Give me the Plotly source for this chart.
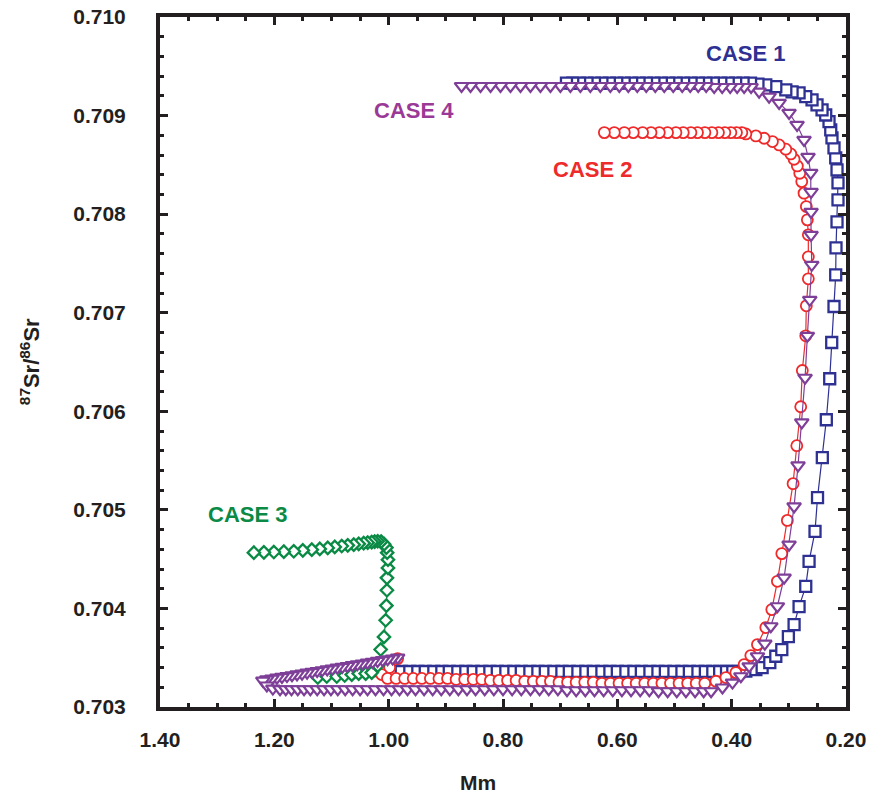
import plotly.graph_objects as go

# ---------------- data ----------------
x_tick_vals = [1.40, 1.20, 1.00, 0.80, 0.60, 0.40, 0.20]
x_tick_text = ["1.40", "1.20", "1.00", "0.80", "0.60", "0.40", "0.20"]
y_tick_vals = [0.703, 0.704, 0.705, 0.706, 0.707, 0.708, 0.709, 0.710]
y_tick_text = ["0.703", "0.704", "0.705", "0.706", "0.707", "0.708", "0.709", "0.710"]

case_labels = ["CASE 1", "CASE 2", "CASE 3", "CASE 4"]

# CASE 1 (blue squares)
case1_mm = [
    1.019, 1.005, 0.991, 0.978, 0.963, 0.949, 0.936, 0.921, 0.907, 0.894,
    0.879, 0.865, 0.852, 0.837, 0.823, 0.810, 0.795, 0.781, 0.768, 0.753,
    0.739, 0.726, 0.711, 0.697, 0.684, 0.669, 0.655, 0.642, 0.627, 0.613,
    0.600, 0.585, 0.571, 0.558, 0.543, 0.529, 0.516, 0.501, 0.487, 0.474,
    0.459, 0.446, 0.433, 0.421, 0.409, 0.398, 0.387,
    0.3752, 0.3577, 0.3467, 0.3333, 0.3228, 0.3123, 0.3008, 0.2908, 0.2821,
    0.2704, 0.2646, 0.2542, 0.2498, 0.2414, 0.2344, 0.2285, 0.2250, 0.2210,
    0.2180, 0.2175, 0.2157, 0.2140, 0.2140, 0.2157, 0.2180, 0.2210, 0.2245,
    0.2267, 0.2297, 0.2355, 0.2419, 0.2507, 0.2594, 0.2704, 0.2821, 0.2943,
    0.3053, 0.3228, 0.3403,
    0.354, 0.367, 0.380, 0.393, 0.406, 0.419, 0.432, 0.445, 0.458, 0.471,
    0.484, 0.497, 0.510, 0.523, 0.536, 0.549, 0.562, 0.575, 0.588, 0.601,
    0.614, 0.627, 0.640, 0.653, 0.666, 0.678, 0.689,
]
case1_sr = [
    0.70337, 0.70337, 0.70336, 0.70336, 0.70336, 0.70336, 0.70336, 0.70336, 0.70336, 0.70336,
    0.70336, 0.70336, 0.70336, 0.70336, 0.70336, 0.70336, 0.70336, 0.70336, 0.70336, 0.70336,
    0.70336, 0.70336, 0.70336, 0.70336, 0.70336, 0.70336, 0.70336, 0.70336, 0.70336, 0.70336,
    0.70336, 0.70336, 0.70336, 0.70336, 0.70336, 0.70336, 0.70336, 0.70336, 0.70336, 0.70336,
    0.70336, 0.70336, 0.70336, 0.70336, 0.70336, 0.70336, 0.70336,
    0.703363, 0.703380, 0.703400, 0.703451, 0.703515, 0.703583, 0.703714, 0.703836, 0.704019,
    0.704224, 0.704478, 0.704782, 0.705124, 0.705529, 0.705914, 0.706330, 0.706698, 0.707063,
    0.707384, 0.707658, 0.707922, 0.708145, 0.708317, 0.708449, 0.708571, 0.708672, 0.708773,
    0.708854, 0.708939, 0.709006, 0.709057, 0.709108, 0.709159, 0.709192, 0.709230, 0.709240,
    0.709260, 0.709293, 0.709311,
    0.70932, 0.70933, 0.70933, 0.70933, 0.70933, 0.70933, 0.70933, 0.70933, 0.70933, 0.70933,
    0.70933, 0.70933, 0.70933, 0.70933, 0.70933, 0.70933, 0.70933, 0.70933, 0.70933, 0.70933,
    0.70933, 0.70933, 0.70933, 0.70933, 0.70933, 0.70933, 0.70933,
]

# CASE 2 (red circles)
case2_mm = [
    0.9843, 0.9983, 1.0122,
    1.002, 0.987, 0.972, 0.957, 0.942, 0.927, 0.912, 0.897, 0.882, 0.867,
    0.852, 0.837, 0.822, 0.807, 0.792, 0.777, 0.762, 0.747, 0.732, 0.717,
    0.702, 0.687, 0.672, 0.657, 0.642, 0.627, 0.612, 0.597, 0.582, 0.567,
    0.552, 0.537, 0.522, 0.507, 0.492, 0.477, 0.462, 0.447, 0.4276,
    0.4101, 0.3927, 0.3782, 0.3665, 0.3549, 0.3403, 0.3298, 0.3200, 0.3123,
    0.3026, 0.2926, 0.2861, 0.2792, 0.2764, 0.2704, 0.2694, 0.2659, 0.2659,
    0.2659, 0.2676, 0.2694, 0.2734, 0.2774, 0.2809, 0.2851, 0.2908, 0.2966,
    0.3053, 0.3170, 0.3287, 0.3432, 0.3577, 0.3752,
    0.3822, 0.3916, 0.4014, 0.4119, 0.4231, 0.4346, 0.4468, 0.4598, 0.4713,
    0.4847, 0.4975, 0.5122, 0.5266, 0.5411, 0.5558, 0.5721, 0.5878, 0.6053, 0.6227,
]
case2_sr = [
    0.703491, 0.703400, 0.703329,
    0.70329, 0.70329, 0.70329, 0.70329, 0.70329, 0.70329, 0.70329, 0.70329, 0.70328, 0.70328,
    0.70328, 0.70328, 0.70327, 0.70327, 0.70327, 0.70327, 0.70326, 0.70326, 0.70326, 0.70326,
    0.70325, 0.70325, 0.70325, 0.70325, 0.70325, 0.70324, 0.70324, 0.70324, 0.70324, 0.70324,
    0.70324, 0.70324, 0.70324, 0.70324, 0.70324, 0.70324, 0.70324, 0.70324, 0.703261,
    0.703299, 0.703349, 0.703430, 0.703522, 0.703633, 0.703806, 0.703988, 0.704275, 0.704556,
    0.704893, 0.705266, 0.705651, 0.706046, 0.706414, 0.706766, 0.707070, 0.707344, 0.707567,
    0.707790, 0.707942, 0.708077, 0.708213, 0.708330, 0.708415, 0.708489, 0.708557, 0.708611,
    0.708659, 0.708702, 0.708736, 0.708770, 0.708794, 0.708814,
    0.708827, 0.708827, 0.708827, 0.708827, 0.708827, 0.708827, 0.708827, 0.708827, 0.708827,
    0.708827, 0.708827, 0.708827, 0.708827, 0.708827, 0.708827, 0.708827, 0.708827, 0.708827, 0.708827,
]

# CASE 3 (green diamonds)
case3_mm = [
    1.1240, 1.1083, 1.0908, 1.0769, 1.0646, 1.0524, 1.0402, 1.0297,
    1.0192, 1.0140, 1.0082, 1.0052, 1.0040, 1.0030, 1.0030, 1.0012, 1.0012,
    1.0026, 1.0040, 1.0079, 1.0131, 1.0192, 1.0245, 1.0297, 1.0367, 1.0437,
    1.0524, 1.0611, 1.0716, 1.0821, 1.0943, 1.1066, 1.1205, 1.1345, 1.1502,
    1.1660, 1.1834, 1.2009, 1.2183, 1.2358,
]
case3_sr = [
    0.703299, 0.703309, 0.703309, 0.703319, 0.703329, 0.703339, 0.703339, 0.703349,
    0.703420, 0.703583, 0.703711, 0.703880, 0.704029, 0.704184, 0.704310, 0.704411, 0.704495,
    0.704566, 0.704617, 0.704652, 0.704678, 0.704681, 0.704678, 0.704673, 0.704667, 0.704662,
    0.704655, 0.704647, 0.704640, 0.704633, 0.704624, 0.704614, 0.704604, 0.704596, 0.704589,
    0.704580, 0.704576, 0.704572, 0.704569, 0.704566,
]

# CASE 4 (purple triangles)
case4_mm = [
    0.9843, 0.9931, 1.0019, 1.0107, 1.0195, 1.0283, 1.0371, 1.0459, 1.0547,
    1.0635, 1.0723, 1.0811, 1.0899, 1.0987, 1.1075, 1.1163, 1.1251, 1.1339,
    1.1427, 1.1515, 1.1603, 1.1691, 1.1779, 1.1867, 1.1955, 1.2043, 1.2131, 1.2201,
    1.2131, 1.2026,
    1.190, 1.180, 1.170, 1.159, 1.148, 1.137, 1.125, 1.113, 1.101, 1.089,
    1.076, 1.063, 1.050, 1.037, 1.023, 1.009, 0.995, 0.981, 0.967, 0.953,
    0.938, 0.923, 0.908, 0.893, 0.878, 0.863, 0.848, 0.832, 0.816, 0.800,
    0.784, 0.768, 0.752, 0.736, 0.720, 0.704, 0.688, 0.672, 0.656, 0.640,
    0.624, 0.608, 0.592, 0.576, 0.560, 0.544, 0.528, 0.512, 0.496, 0.480,
    0.464, 0.449, 0.436,
    0.4161, 0.3986, 0.3839, 0.3694, 0.3549, 0.3420, 0.3315, 0.3200, 0.3083,
    0.2996, 0.2908, 0.2839, 0.2774, 0.2716, 0.2676, 0.2634, 0.2599, 0.2611,
    0.2611, 0.2611, 0.2617, 0.2664, 0.2734, 0.2856, 0.2996, 0.3170, 0.3345, 0.3520,
    0.3660, 0.3782, 0.3904, 0.4026, 0.4166, 0.4306, 0.4446, 0.4585, 0.4725,
    0.4865, 0.5022, 0.5179, 0.5336, 0.5494, 0.5651, 0.5808, 0.5965, 0.6122,
    0.6297, 0.6472, 0.6646, 0.6821, 0.6996, 0.7170, 0.7345, 0.7520, 0.7694,
    0.7869, 0.8044, 0.8218, 0.8393, 0.8568, 0.8725,
]
case4_sr = [
    0.703501, 0.703492, 0.703484, 0.703475, 0.703467, 0.703458, 0.703450, 0.703441, 0.703433,
    0.703424, 0.703416, 0.703407, 0.703399, 0.703390, 0.703382, 0.703373, 0.703365, 0.703356,
    0.703348, 0.703339, 0.703331, 0.703322, 0.703314, 0.703305, 0.703297, 0.703288, 0.703280, 0.703268,
    0.703218, 0.703187,
    0.70318, 0.70318, 0.70318, 0.70318, 0.70318, 0.70318, 0.70318, 0.70318, 0.70318, 0.70318,
    0.70318, 0.70318, 0.70318, 0.70318, 0.70318, 0.70318, 0.70318, 0.70318, 0.70318, 0.70318,
    0.70318, 0.70318, 0.70318, 0.70318, 0.70318, 0.70318, 0.70318, 0.70318, 0.70318, 0.70318,
    0.70318, 0.70318, 0.70318, 0.70318, 0.70318, 0.70318, 0.70317, 0.70317, 0.70317, 0.70317,
    0.70317, 0.70317, 0.70317, 0.70317, 0.70317, 0.70317, 0.70316, 0.70316, 0.70316, 0.70316,
    0.70316, 0.70316, 0.70316,
    0.703198, 0.703248, 0.703312, 0.703413, 0.703515, 0.703643, 0.703819, 0.704022, 0.704313,
    0.704647, 0.705035, 0.705451, 0.705887, 0.706340, 0.706766, 0.707131, 0.707486, 0.707790,
    0.708023, 0.708226, 0.708418, 0.708581, 0.708753, 0.708905, 0.709027, 0.709128, 0.709192, 0.709243,
    0.70929, 0.70929, 0.70929, 0.70929, 0.70929, 0.70929, 0.70930, 0.70930, 0.70930,
    0.70930, 0.70930, 0.70930, 0.70930, 0.70930, 0.70930, 0.70930, 0.70930, 0.70930,
    0.70930, 0.70930, 0.70930, 0.70930, 0.70930, 0.70930, 0.70930, 0.70930, 0.70930,
    0.70930, 0.70930, 0.70930, 0.70930, 0.70930, 0.70930,
]

# ---------------- styling ----------------
FONT = "Liberation Sans, Arial, Helvetica, sans-serif"
INK = "#231F20"
BLUE = "#2E3192"
RED = "#EE2A2A"
GREEN = "#0A8A45"
PURPLE = "#7E3F98"
PURPLE_TXT = "#9B3A96"

fig = go.Figure()

def add_case(xs, ys, color, symbol, size, lw):
    fig.add_trace(go.Scatter(
        x=xs, y=ys, mode="lines+markers",
        line=dict(color=color, width=1.2),
        marker=dict(symbol=symbol, size=size, color="white",
                    line=dict(color=color, width=lw)),
        cliponaxis=False, showlegend=False, hoverinfo="skip",
    ))

add_case(case1_mm, case1_sr, BLUE, "square", 11, 2.3)
add_case(case2_mm, case2_sr, RED, "circle", 11, 1.8)
add_case(case3_mm, case3_sr, GREEN, "diamond", 9.5, 2.3)
add_case(case4_mm, case4_sr, PURPLE, "triangle-down", 12, 2.2)

axis_common = dict(
    showgrid=False, zeroline=False, automargin=False,
    showline=True, linewidth=4, linecolor=INK, mirror="ticks",
    ticks="inside", ticklen=8, tickwidth=3, tickcolor=INK,
    ticklabeloverflow="allow",
    tickfont=dict(family=FONT, size=21, color=INK, weight="bold"),
)

fig.update_xaxes(
    range=[1.40, 0.20], tickmode="array", tickvals=x_tick_vals, ticktext=x_tick_text,
    minor=dict(tickmode="linear", tick0=0.2, dtick=0.05, ticks="inside",
               ticklen=4, tickwidth=3, tickcolor=INK),
    ticklabelstandoff=11,
    **axis_common,
)
fig.update_yaxes(
    range=[0.703, 0.710], tickmode="array", tickvals=y_tick_vals, ticktext=y_tick_text,
    minor=dict(tickmode="linear", tick0=0.703, dtick=0.0002, ticks="inside",
               ticklen=4, tickwidth=3, tickcolor=INK),
    ticklabelstandoff=26,
    **axis_common,
)

# top edge of the frame, drawn where the mirrored axis line sits
fig.add_shape(type="line", xref="paper", yref="paper",
              x0=-0.0058, x1=1.0058, y0=1.0029, y1=1.0029,
              line=dict(color=INK, width=4), layer="above")

label_pos = [(0.8528, 0.9471), (0.6304, 0.7797), (0.1276, 0.2797), (0.3696, 0.8645)]
label_col = [BLUE, RED, GREEN, PURPLE_TXT]
annotations = []
for txt, (px, py), col in zip(case_labels, label_pos, label_col):
    annotations.append(dict(
        text=txt, x=px, y=py, xref="paper", yref="paper",
        xanchor="center", yanchor="middle", showarrow=False,
        font=dict(family=FONT, size=22, color=col, weight="bold"),
    ))
annotations.append(dict(
    text="Mm", x=0.4636, y=-0.1101, xref="paper", yref="paper",
    xanchor="center", yanchor="middle", showarrow=False,
    font=dict(family=FONT, size=21, color=INK, weight="bold"),
))
annotations.append(dict(
    text="<sup>87</sup>Sr/<sup>86</sup>Sr", x=-0.1900, y=0.5007,
    xref="paper", yref="paper", xanchor="center", yanchor="middle",
    textangle=-90, showarrow=False,
    font=dict(family=FONT, size=22, color=INK, weight="bold"),
))

fig.update_layout(
    width=872, height=797,
    margin=dict(l=160, r=26, t=17, b=90, autoexpand=False),
    plot_bgcolor="white", paper_bgcolor="white",
    showlegend=False,
    annotations=annotations,
)

# remove the browser's default 8 px body margin so the figure sits at the page corner
fig.write_html(
    "out.html",
    config={"displayModeBar": False},
    post_script="document.body.style.margin='0';document.body.style.overflow='hidden';",
)
